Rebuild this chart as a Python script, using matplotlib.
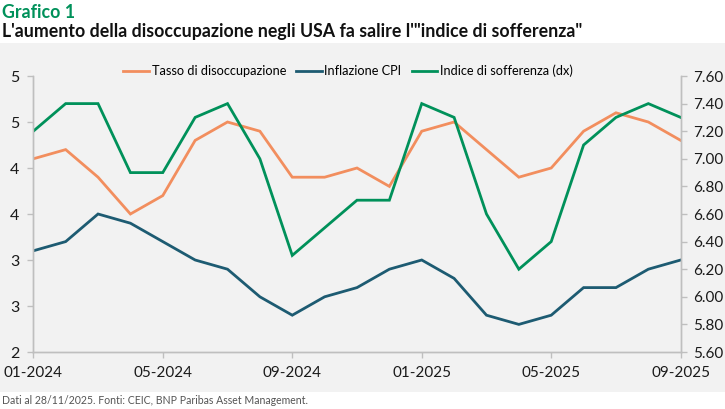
import numpy as np
import matplotlib.pyplot as plt
from matplotlib.patches import Rectangle
from matplotlib.lines import Line2D

# Data (monthly, 01-2024 .. 09-2025)
months = ['01-2024', '02-2024', '03-2024', '04-2024', '05-2024', '06-2024', '07-2024',
          '08-2024', '09-2024', '10-2024', '11-2024', '12-2024', '01-2025', '02-2025',
          '03-2025', '04-2025', '05-2025', '06-2025', '07-2025', '08-2025', '09-2025']
disoccupazione = [4.1, 4.2, 3.9, 3.5, 3.7, 4.3, 4.5, 4.4, 3.9, 3.9, 4.0, 3.8, 4.4, 4.5,
                  4.2, 3.9, 4.0, 4.4, 4.6, 4.5, 4.3]
inflazione = [3.1, 3.2, 3.5, 3.4, 3.2, 3.0, 2.9, 2.6, 2.4, 2.6, 2.7, 2.9, 3.0, 2.8,
              2.4, 2.3, 2.4, 2.7, 2.7, 2.9, 3.0]
sofferenza = [7.2, 7.4, 7.4, 6.9, 6.9, 7.3, 7.4, 7.0, 6.3, 6.5, 6.7, 6.7, 7.4, 7.3,
              6.6, 6.2, 6.4, 7.1, 7.3, 7.4, 7.3]

left_ticks = [2, 2.5, 3, 3.5, 4, 4.5, 5]
left_labels = ['2', '3', '3', '4', '4', '5', '5']
right_ticks = [5.6, 5.8, 6.0, 6.2, 6.4, 6.6, 6.8, 7.0, 7.2, 7.4, 7.6]
x_ticks = ['01-2024', '05-2024', '09-2024', '01-2025', '05-2025', '09-2025']

ORANGE = '#F28E5E'
BLUE = '#1D5B72'
GREEN = '#00915A'
AXIS = '#BFBFBF'

plt.rcParams['font.family'] = ['Lato', 'DejaVu Sans']

fig = plt.figure(figsize=(7.25, 4.09), dpi=100)
fig.patches.append(Rectangle((0, 1 - 392 / 409), 1, (392 - 43) / 409,
                             transform=fig.transFigure, facecolor='#F2F2F2',
                             edgecolor='none', zorder=-5))

ax = fig.add_axes([33.3 / 725, 1 - 352 / 409, (680.7 - 33.3) / 725, (352 - 76) / 409])
ax.set_facecolor('none')
ax2 = ax.twinx()

x = np.arange(len(months))
ax.plot(x, disoccupazione, color=ORANGE, lw=2.0, solid_joinstyle='miter')
ax.plot(x, inflazione, color=BLUE, lw=2.0, solid_joinstyle='miter')
ax2.plot(x, sofferenza, color=GREEN, lw=2.0, solid_joinstyle='miter')

ax.set_xlim(0, len(months) - 1)
ax.set_ylim(2, 5)
ax2.set_ylim(5.6, 7.6)

ax.set_yticks(left_ticks)
ax.set_yticklabels(left_labels)
ax2.set_yticks(right_ticks)
ax2.set_yticklabels([f'{v:.2f}' for v in right_ticks])
ax.set_xticks([months.index(m) for m in x_ticks])
ax.set_xticklabels(x_ticks)

for a in (ax, ax2):
    for s in a.spines.values():
        s.set_color(AXIS)
        s.set_linewidth(1.0)
    a.spines['top'].set_visible(False)
    a.tick_params(colors=AXIS, length=4, width=1, labelcolor='#1A1A1A', labelsize=11.5)
ax.tick_params(axis='y', pad=6)
ax2.tick_params(axis='y', pad=5, labelsize=11)
ax.tick_params(axis='x', pad=6, labelsize=11)

handles = [Line2D([], [], color=ORANGE, lw=2),
           Line2D([], [], color=BLUE, lw=2),
           Line2D([], [], color=GREEN, lw=2)]
fig.legend(handles, ['Tasso di disoccupazione', 'Inflazione CPI', 'Indice di sofferenza (dx)'],
           loc='center', bbox_to_anchor=(348 / 725, 1 - 71 / 409), ncol=3, frameon=False,
           fontsize=9.2, handlelength=2.0, handletextpad=0.2, columnspacing=0.8)

fig.text(0.003, 1 - 12 / 409, 'Grafico 1', color=GREEN, fontsize=12.8, fontweight='bold',
         va='center', ha='left')
fig.text(0.003, 1 - 31 / 409,
         'L\'aumento della disoccupazione negli USA fa salire l\'"indice di sofferenza"',
         color='#111111', fontsize=12.8, fontweight='bold', va='center', ha='left')
fig.text(0.003, 1 - 401 / 409, 'Dati al 28/11/2025. Fonti: CEIC, BNP Paribas Asset Management.',
         color='#555555', fontsize=7.6, va='center', ha='left')

fig.savefig('out.png', dpi=100)
